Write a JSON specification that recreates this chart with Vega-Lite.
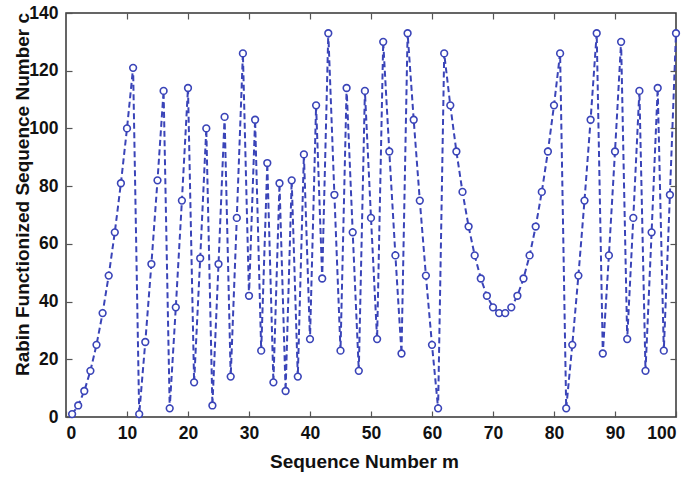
{
  "$schema": "https://vega.github.io/schema/vega-lite/v6.json",
  "width": 610,
  "height": 404,
  "autosize": {"type": "none"},
  "padding": {"left": 66, "top": 13, "right": 10, "bottom": 60},
  "background": "white",
  "config": {
    "view": {"stroke": "#333333", "strokeWidth": 1.5},
    "axis": {
      "labelFont": "Liberation Sans",
      "labelFontWeight": "bold",
      "labelFontSize": 17.5,
      "labelColor": "#111111",
      "titleFont": "Liberation Sans",
      "titleFontWeight": "bold",
      "titleFontSize": 19,
      "titleColor": "#111111",
      "grid": false,
      "domain": false,
      "ticks": true,
      "tickColor": "#555555",
      "tickSize": 6,
      "tickWidth": 1.2,
      "zindex": 1,
      "offset": -6
    }
  },
  "data": {"values": [
    {"m":1,"c":1},{"m":2,"c":4},{"m":3,"c":9},{"m":4,"c":16},{"m":5,"c":25},
    {"m":6,"c":36},{"m":7,"c":49},{"m":8,"c":64},{"m":9,"c":81},{"m":10,"c":100},
    {"m":11,"c":121},{"m":12,"c":1},{"m":13,"c":26},{"m":14,"c":53},{"m":15,"c":82},
    {"m":16,"c":113},{"m":17,"c":3},{"m":18,"c":38},{"m":19,"c":75},{"m":20,"c":114},
    {"m":21,"c":12},{"m":22,"c":55},{"m":23,"c":100},{"m":24,"c":4},{"m":25,"c":53},
    {"m":26,"c":104},{"m":27,"c":14},{"m":28,"c":69},{"m":29,"c":126},{"m":30,"c":42},
    {"m":31,"c":103},{"m":32,"c":23},{"m":33,"c":88},{"m":34,"c":12},{"m":35,"c":81},
    {"m":36,"c":9},{"m":37,"c":82},{"m":38,"c":14},{"m":39,"c":91},{"m":40,"c":27},
    {"m":41,"c":108},{"m":42,"c":48},{"m":43,"c":133},{"m":44,"c":77},{"m":45,"c":23},
    {"m":46,"c":114},{"m":47,"c":64},{"m":48,"c":16},{"m":49,"c":113},{"m":50,"c":69},
    {"m":51,"c":27},{"m":52,"c":130},{"m":53,"c":92},{"m":54,"c":56},{"m":55,"c":22},
    {"m":56,"c":133},{"m":57,"c":103},{"m":58,"c":75},{"m":59,"c":49},{"m":60,"c":25},
    {"m":61,"c":3},{"m":62,"c":126},{"m":63,"c":108},{"m":64,"c":92},{"m":65,"c":78},
    {"m":66,"c":66},{"m":67,"c":56},{"m":68,"c":48},{"m":69,"c":42},{"m":70,"c":38},
    {"m":71,"c":36},{"m":72,"c":36},{"m":73,"c":38},{"m":74,"c":42},{"m":75,"c":48},
    {"m":76,"c":56},{"m":77,"c":66},{"m":78,"c":78},{"m":79,"c":92},{"m":80,"c":108},
    {"m":81,"c":126},{"m":82,"c":3},{"m":83,"c":25},{"m":84,"c":49},{"m":85,"c":75},
    {"m":86,"c":103},{"m":87,"c":133},{"m":88,"c":22},{"m":89,"c":56},{"m":90,"c":92},
    {"m":91,"c":130},{"m":92,"c":27},{"m":93,"c":69},{"m":94,"c":113},{"m":95,"c":16},
    {"m":96,"c":64},{"m":97,"c":114},{"m":98,"c":23},{"m":99,"c":77},{"m":100,"c":133}
  ]},
  "layer": [
    {
      "mark": {"type": "line", "color": "#3a44b8", "strokeWidth": 2, "strokeDash": [6, 3.5]},
      "encoding": {
        "x": {"field": "m", "type": "quantitative", "scale": {"domain": [0, 100], "nice": false},
              "axis": {"values": [0,10,20,30,40,50,60,70,80,90,100], "title": "Sequence Number m", "labelPadding": 7,
                       "titleX": 298, "titleY": 50, "titleBaseline": "middle", "titleAlign": "center"}},
        "y": {"field": "c", "type": "quantitative", "scale": {"domain": [0, 140], "nice": false},
              "axis": {"values": [0,20,40,60,80,100,120,140], "title": "Rabin Functionized Sequence Number c", "labelPadding": 8,
                       "titleX": -50, "titleY": 181, "titleBaseline": "middle", "titleAlign": "center", "titleAngle": 270}}
      }
    },
    {
      "mark": {"type": "point", "shape": "circle", "filled": false, "color": "#3a44b8", "fill": "white", "fillOpacity": 1, "strokeWidth": 1.6, "size": 45},
      "encoding": {
        "x": {"field": "m", "type": "quantitative", "scale": {"domain": [0, 100], "nice": false},
              "axis": {"orient": "top", "values": [10,20,30,40,50,60,70,80,90], "labels": false, "title": null}},
        "y": {"field": "c", "type": "quantitative", "scale": {"domain": [0, 140], "nice": false},
              "axis": {"orient": "right", "values": [20,40,60,80,100,120], "labels": false, "title": null}}
      }
    }
  ],
  "resolve": {"scale": {"x": "independent", "y": "independent"}, "axis": {"x": "independent", "y": "independent"}}
}
